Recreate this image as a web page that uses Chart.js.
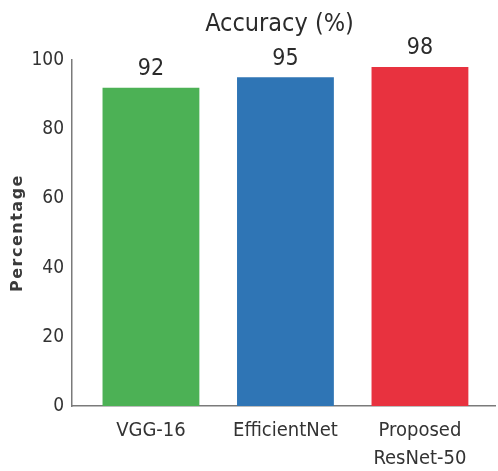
<!DOCTYPE html>
<html>
<head>
<meta charset="utf-8">
<script src="https://cdn.jsdelivr.net/npm/chart.js@4/dist/chart.umd.min.js"></script>
<style>
  html, body { margin: 0; padding: 0; background: #fff; }
  #wrap { width: 498px; height: 471px; }
</style>
</head>
<body>
<div id="wrap"><canvas id="c" width="498" height="471"></canvas></div>
<script>
const models = [["VGG-16"], ["EfficientNet"], ["Proposed", "ResNet-50"]];
const accuracy = [92, 95, 98];
const barColors = ["#4cb155", "#2f75b5", "#e8323f"];
const yTicks = [0, 20, 40, 60, 80, 100];

const FONT = "'Liberation Sans Narrow', 'DejaVu Sans Condensed', 'Open Sans', sans-serif";

// Title, rotated axis title and value labels above each bar
const annotate = {
  id: "annotate",
  afterDatasetsDraw(chart) {
    const ctx = chart.ctx;
    const area = chart.chartArea;
    ctx.save();
    ctx.fillStyle = "#2b2b2b";
    ctx.textAlign = "center";
    ctx.textBaseline = "middle";
    ctx.font = "25px " + FONT;
    ctx.fillText("Accuracy (%)", (area.left + area.right) / 2 - 4, 24);

    ctx.font = "23px " + FONT;
    ctx.textBaseline = "bottom";
    chart.getDatasetMeta(0).data.forEach((bar, i) => {
      ctx.fillText(String(accuracy[i]), bar.x, bar.y - 7);
    });

    ctx.save();
    ctx.translate(18, 234);
    ctx.rotate(-Math.PI / 2);
    ctx.font = "bold 16px 'DejaVu Sans', sans-serif";
    ctx.fillStyle = "#3a3a3a";
    ctx.letterSpacing = "1.5px";
    ctx.textBaseline = "middle";
    ctx.fillText("Percentage", 1, 0);
    ctx.restore();

    ctx.restore();
  }
};

new Chart(document.getElementById("c"), {
  type: "bar",
  data: {
    labels: models,
    datasets: [{
      data: accuracy,
      backgroundColor: barColors,
      borderWidth: 0,
      categoryPercentage: 0.72,
      barPercentage: 1.0
    }]
  },
  options: {
    responsive: false,
    animation: false,
    devicePixelRatio: 1,
    layout: { padding: { top: 60, right: 3, left: 0, bottom: 0 } },
    plugins: {
      legend: { display: false },
      title: { display: false },
      tooltip: { enabled: false }
    },
    scales: {
      x: {
        grid: { display: false, drawTicks: false },
        border: { display: true, color: "#7a7a7a", width: 1.5 },
        ticks: {
          color: "#333",
          font: { family: FONT, size: 20, lineHeight: 1.4 },
          padding: 11,
          maxRotation: 0
        },
        afterFit(scale) { scale.height = 65; },
        // leave a little room before the first category
        afterBuildTicks(scale) {
          scale._startValue = -0.587;
          scale._valueRange = 3.145;
        }
      },
      y: {
        min: 0,
        max: 100,
        afterBuildTicks(scale) {
          scale.ticks = yTicks.map(v => ({ value: v }));
        },
        afterFit(scale) { scale.width = 72; },
        grid: { display: false, drawTicks: false },
        border: { display: true, color: "#7a7a7a", width: 1.5 },
        ticks: {
          color: "#333",
          font: { family: FONT, size: 19 },
          padding: 8
        }
      }
    }
  },
  plugins: [annotate]
});
</script>
</body>
</html>
